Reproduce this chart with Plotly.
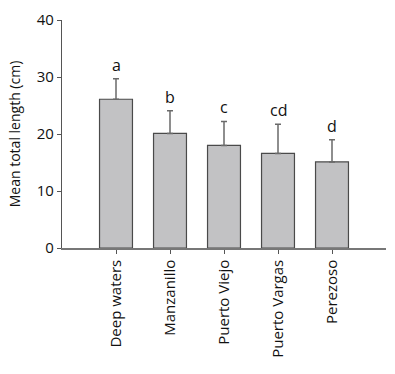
import plotly.graph_objects as go

categories = ["Deep waters", "Manzanillo", "Puerto Viejo", "Puerto Vargas", "Perezoso"]
means = [26.1, 20.1, 18.0, 16.6, 15.1]
sd_upper = [3.6, 4.0, 4.2, 5.1, 3.9]
letters = ["a", "b", "c", "cd", "d"]
y_ticks = [0, 10, 20, 30, 40]

FONT = "Open Sans"
x_idx = list(range(len(categories)))

fig = go.Figure()
fig.add_trace(go.Bar(
    x=x_idx, y=means, width=0.61,
    marker=dict(color="#c2c2c4", line=dict(color="#4a4a4a", width=1.2)),
    error_y=dict(type="data", array=sd_upper, arrayminus=[0]*len(means),
                 symmetric=False, color="#6a6a6a", thickness=1.5, width=3),
    showlegend=False,
))

for i, (m, s, l) in enumerate(zip(means, sd_upper, letters)):
    fig.add_annotation(x=i, y=m + s, text=l, showarrow=False,
                       yanchor="bottom", yshift=1,
                       font=dict(family=FONT, size=16, color="#111"))

fig.update_layout(
    width=395, height=374,
    margin=dict(l=62, r=9, t=16, b=126),
    paper_bgcolor="white", plot_bgcolor="white",
    font=dict(family=FONT, size=14, color="#111"),
    bargap=0.39,
)
fig.update_xaxes(
    range=[-1, 5], tickvals=x_idx, ticktext=categories, tickangle=-90,
    showline=True, linecolor="#777", linewidth=1.5,
    ticks="outside", ticklen=4, tickcolor="#555",
    showgrid=False, zeroline=False, tickfont=dict(size=15),
)
fig.update_yaxes(
    range=[0, 40], tickvals=y_ticks,
    showline=True, linecolor="#555", linewidth=1.2,
    ticks="outside", ticklen=4, tickcolor="#555",
    showgrid=False, zeroline=False, tickfont=dict(size=15),
    title=dict(text="Mean total length (cm)", font=dict(size=14), standoff=12),
)

fig.write_html("out.html")
